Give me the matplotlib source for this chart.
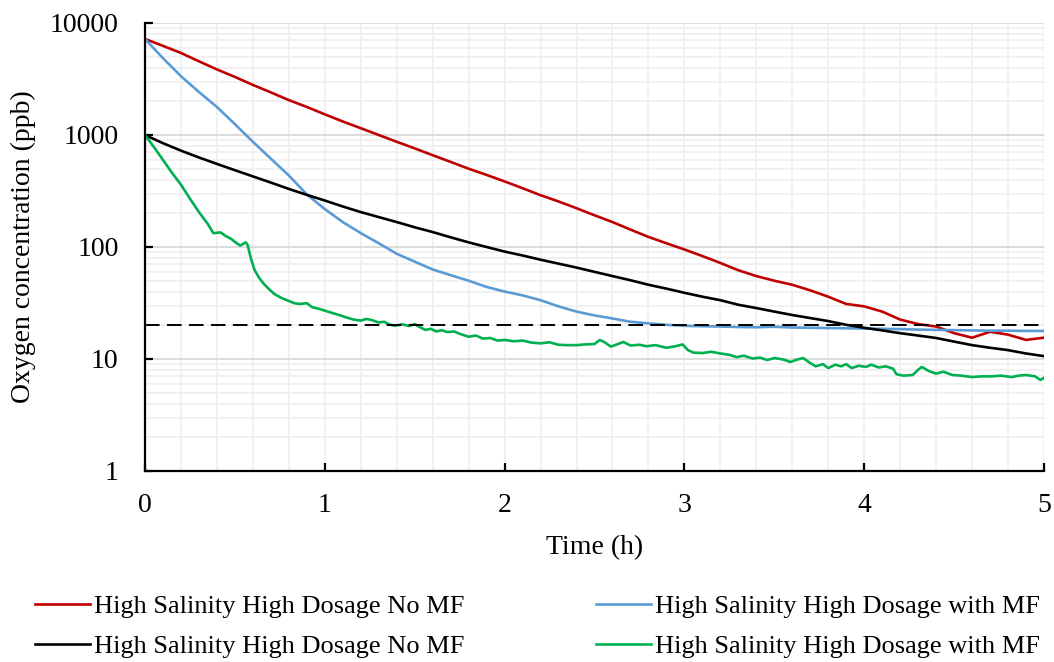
import matplotlib
matplotlib.use("Agg")
import matplotlib.pyplot as plt
from matplotlib.ticker import FixedLocator, NullFormatter, MultipleLocator

plt.rcParams['font.family'] = ['Liberation Serif', 'DejaVu Serif']

# Sampling times (h) for the three smoother records
hours = [0.0, 0.1, 0.2, 0.3, 0.4, 0.5, 0.6, 0.7, 0.8, 0.9,
         1.0, 1.1, 1.2, 1.3, 1.4, 1.5, 1.6, 1.7, 1.8, 1.9,
         2.0, 2.1, 2.2, 2.3, 2.4, 2.5, 2.6, 2.7, 2.8, 2.9,
         3.0, 3.1, 3.2, 3.3, 3.4, 3.5, 3.6, 3.7, 3.8, 3.9,
         4.0, 4.1, 4.2, 4.3, 4.4, 4.5, 4.6, 4.7, 4.8, 4.9, 5.0]

# Oxygen concentration (ppb)
red_no_mf = [7200, 6250, 5400, 4550, 3850, 3300, 2800, 2400, 2050, 1780,
             1530, 1320, 1150, 1000, 870, 760, 660, 575, 500, 440,
             385, 335, 290, 255, 222, 192, 167, 143, 123, 108,
             95, 83, 72, 62, 55, 50, 46, 41, 36, 31,
             29.5, 26.5, 22.5, 20.5, 19.5, 17, 15.5, 17.5, 16.5, 14.8, 15.5]

blue_with_mf = [7200, 4850, 3350, 2420, 1780, 1250, 870, 615, 435, 295,
                218, 167, 133, 108, 87, 74, 63, 56, 50, 44,
                40, 37, 33.5, 29.5, 26.5, 24.5, 23, 21.5, 20.8, 20.2,
                19.8, 19.6, 19.5, 19.3, 19.2, 19.4, 19.1, 19.0, 18.9, 18.8,
                18.7, 18.6, 18.5, 18.3, 18.2, 18.1, 18.0, 17.9, 17.9, 17.8, 17.8]

black_no_mf = [1000, 845, 725, 630, 552, 485, 427, 376, 330, 292,
               260, 230, 205, 185, 167, 150, 136, 122, 110, 100,
               91, 84, 77, 71, 65.5, 60, 55, 50.5, 46, 42.5,
               39, 36, 33.5, 30.5, 28.5, 26.5, 24.7, 23.2, 21.8, 20.2,
               19, 18, 17, 16.2, 15.4, 14.3, 13.3, 12.6, 12.0, 11.2, 10.6]

# The green record is noisier, so it is sampled more densely
green_hours = [0, 0.05, 0.1, 0.15, 0.2, 0.25, 0.3, 0.35, 0.38, 0.42,
               0.45, 0.48, 0.51, 0.53, 0.56, 0.57, 0.59, 0.61, 0.635, 0.66,
               0.69, 0.72, 0.76, 0.8, 0.83, 0.86, 0.9, 0.93, 0.97, 1.0,
               1.04, 1.08, 1.12, 1.16, 1.2, 1.23, 1.26, 1.3, 1.33, 1.36,
               1.39, 1.43, 1.47, 1.5, 1.53, 1.56, 1.59, 1.62, 1.65, 1.68,
               1.72, 1.75, 1.8, 1.84, 1.88, 1.92, 1.96, 2.0, 2.05, 2.1,
               2.15, 2.2, 2.25, 2.3, 2.35, 2.4, 2.45, 2.5, 2.53, 2.56,
               2.59, 2.62, 2.66, 2.7, 2.75, 2.79, 2.84, 2.9, 2.95, 2.99,
               3.02, 3.05, 3.1, 3.15, 3.2, 3.25, 3.29, 3.33, 3.38, 3.42,
               3.46, 3.5, 3.55, 3.59, 3.62, 3.66, 3.7, 3.73, 3.77, 3.8,
               3.84, 3.87, 3.9, 3.93, 3.97, 4.01, 4.04, 4.08, 4.12, 4.16,
               4.18, 4.22, 4.27, 4.3, 4.32, 4.36, 4.4, 4.44, 4.49, 4.54,
               4.6, 4.65, 4.71, 4.76, 4.82, 4.86, 4.9, 4.95, 4.98, 5.0]
green_with_mf = [1000, 780, 600, 460, 360, 270, 205, 160, 133, 135,
                 125, 118, 108, 103, 110, 105, 78, 62, 53, 47,
                 42, 38, 35, 33, 31.5, 31, 31.5, 29, 28, 27,
                 25.8, 24.7, 23.5, 22.5, 22, 22.8, 22.3, 21.2, 21.5, 20.3,
                 19.8, 20.4, 19.7, 20.5, 19.2, 18.2, 18.6, 17.6, 18.1, 17.4,
                 17.6, 16.8, 15.8, 16.2, 15.2, 15.4, 14.6, 14.8, 14.4, 14.6,
                 14.0, 13.8, 14.1, 13.4, 13.3, 13.3, 13.5, 13.6, 14.8, 14.0,
                 12.9, 13.4, 14.2, 13.2, 13.4, 13.0, 13.3, 12.6, 13.0, 13.5,
                 12.0, 11.4, 11.3, 11.6, 11.2, 10.9, 10.4, 10.7, 10.1, 10.3,
                 9.8, 10.2, 9.9, 9.4, 9.8, 10.2, 9.2, 8.6, 9.0, 8.3,
                 8.9, 8.6, 9.0, 8.3, 8.7, 8.5, 8.9, 8.4, 8.6, 8.2,
                 7.3, 7.1, 7.2, 8.0, 8.5, 7.8, 7.4, 7.7, 7.2, 7.1,
                 6.9, 7.0, 7.0, 7.1, 6.9, 7.1, 7.2, 7.0, 6.5, 6.8]

threshold_ppb = 20

labels = ["High Salinity High Dosage No MF",
          "High Salinity High Dosage with MF",
          "High Salinity High Dosage No MF",
          "High Salinity High Dosage with MF"]
colors = ["#C00000", "#5B9BD5", "#000000", "#00B050"]
y_ticks = [1, 10, 100, 1000, 10000]
x_ticks = [0, 1, 2, 3, 4, 5]

fig = plt.figure(figsize=(10.54, 6.62), dpi=100)
ax = fig.add_axes([145 / 1054, 1 - 471 / 662, 899 / 1054, 448 / 662])

lw = 1.9
l_red, = ax.plot(hours, red_no_mf, color=colors[0], lw=lw, label=labels[0])
l_blue, = ax.plot(hours, blue_with_mf, color=colors[1], lw=lw, label=labels[1])
l_black, = ax.plot(hours, black_no_mf, color=colors[2], lw=lw, label=labels[2])
l_green, = ax.plot(green_hours, green_with_mf, color=colors[3], lw=lw, label=labels[3])
ax.axhline(threshold_ppb, color="black", lw=1.4, dashes=(7.5, 3.8), zorder=4)

ax.set_yscale("log")
ax.set_ylim(1, 10000)
ax.set_xlim(0, 5)

ax.yaxis.set_major_locator(FixedLocator(y_ticks))
ax.set_yticklabels([str(v) for v in y_ticks])
minor_y = [m * 10 ** e for e in range(0, 4) for m in range(2, 10)]
ax.yaxis.set_minor_locator(FixedLocator(minor_y))
ax.yaxis.set_minor_formatter(NullFormatter())
ax.xaxis.set_major_locator(FixedLocator(x_ticks))
ax.xaxis.set_minor_locator(MultipleLocator(0.2))

ax.grid(which="major", axis="y", color="#D9D9D9", lw=1.3, zorder=0)
ax.grid(which="minor", axis="y", color="#F0F0F0", lw=1.3, zorder=0)
ax.grid(which="both", axis="x", color="#F0F0F0", lw=1.3, zorder=0)
ax.set_axisbelow(True)

for side in ("top", "right"):
    ax.spines[side].set_visible(False)
for side in ("left", "bottom"):
    ax.spines[side].set_linewidth(1.6)
    ax.spines[side].set_color("black")

ax.tick_params(which="major", direction="in", length=6, width=1.6,
               labelsize=20, colors="black")
ax.tick_params(which="minor", length=0)
ax.tick_params(axis="x", which="major", pad=16)
ax.tick_params(axis="y", which="major", pad=19)

ax.set_xlabel("Time (h)", fontsize=20, va="center")
ax.xaxis.set_label_coords(0.5, (471 - 548) / 448)
ax.set_ylabel("Oxygen concentration (ppb)", fontsize=20, va="center")
ax.yaxis.set_label_coords((23 - 145) / 899, 0.5)

fig.legend(handles=[l_red, l_black, l_blue, l_green],
           labels=[labels[0], labels[2], labels[1], labels[3]],
           ncol=2, loc="upper left", bbox_to_anchor=(35 / 1054, 1 - 595 / 662),
           frameon=False, fontsize=19, handlelength=2.1, handletextpad=0.12,
           columnspacing=5.0, labelspacing=0.6, borderpad=0, borderaxespad=0)

fig.savefig("out.png", dpi=100)
